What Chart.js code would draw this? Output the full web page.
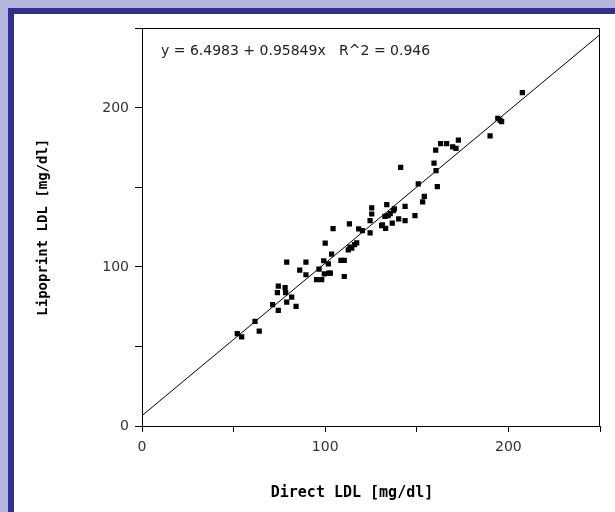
<!DOCTYPE html>
<html>
<head>
<meta charset="utf-8">
<script src="https://cdn.jsdelivr.net/npm/chart.js@4/dist/chart.umd.min.js"></script>
<style>
  html, body { margin: 0; padding: 0; }
  body { width: 615px; height: 512px; background: #b6b6dc; overflow: hidden; position: relative; }
  .panel { position: absolute; left: 8px; top: 8px; width: 601px; height: 498px; background: #fff;
           border-left: 6px solid #2e3192; border-top: 6px solid #2e3192; }
  .panel canvas { display: block; }
</style>
</head>
<body>
<div class="panel"><canvas id="chart" width="601" height="498"></canvas></div>
<script>
'use strict';

// ─── Data ─────────────────────────────────────────────────────────────────────
const directLdl = [52.0, 54.4, 61.7, 64.0, 71.3, 74.4, 74.4, 73.9, 78.1, 78.4, 79.0, 81.7, 84.1, 79.0, 86.1,
  89.5, 89.5, 95.3, 98.1, 96.6, 99.2, 100.0, 99.5, 101.9, 102.8, 103.5, 104.3, 108.6, 110.4, 110.4,
  112.6, 113.5, 114.5, 113.2, 117.2, 118.3, 120.3, 124.5, 124.5, 125.4, 131.2, 133.0, 133.6, 132.6, 134.4,
  136.6, 137.2, 137.8, 140.1, 143.6, 143.6, 149.0, 153.2, 154.1, 150.8, 141.2, 161.2, 160.5, 159.4, 160.3,
  163.0, 166.3, 169.6, 171.4, 172.7, 190.0, 194.2, 195.4, 196.3, 207.6, 101.7, 135.5, 125.4, 130.8, 116.0];
const lipoprintLdl = [58.1, 56.0, 65.8, 59.7, 76.3, 72.7, 88.0, 83.8, 87.0, 83.8, 77.9, 81.1, 75.2, 103.0, 98.0,
  103.0, 95.1, 92.0, 92.0, 98.6, 103.9, 115.0, 95.7, 96.1, 96.1, 108.0, 124.1, 104.1, 104.1, 94.0,
  110.8, 112.4, 111.8, 127.1, 115.2, 123.9, 122.9, 121.4, 129.2, 137.1, 126.5, 124.3, 139.2, 131.8, 132.3,
  127.5, 135.4, 136.5, 130.2, 129.2, 138.1, 132.3, 140.9, 144.4, 152.2, 162.6, 150.5, 160.5, 165.3, 173.5,
  177.6, 177.6, 175.5, 174.5, 179.7, 182.4, 193.5, 192.3, 191.4, 209.6, 102.0, 133.5, 133.3, 126.0, 114.0];

// fit shown on the chart
const INTERCEPT = 6.4983;
const SLOPE = 0.95849;
const R2 = 0.946;
const fitX = [0, 250];

const axisMin = 0, axisMax = 250, tickStep = 50;
const labelledTicks = [0, 100, 200];

const xTitle = 'Direct LDL [mg/dl]';
const yTitle = 'Lipoprint LDL [mg/dl]';
const eqText = `y = ${INTERCEPT} + ${SLOPE}x   R^2 = ${R2}`;

// ─── Plugins ──────────────────────────────────────────────────────────────────
const frame = {
  id: 'frame',
  afterDatasetsDraw(chart) {
    const {ctx, chartArea: a} = chart;
    ctx.save();
    ctx.strokeStyle = '#000';
    ctx.lineWidth = 1;
    ctx.strokeRect(Math.round(a.left) + 0.5, Math.round(a.top) + 0.5, Math.round(a.right - a.left) - 1, Math.round(a.bottom - a.top));
    ctx.restore();
  }
};

const labels = {
  id: 'labels',
  afterDraw(chart) {
    const {ctx, chartArea: a} = chart;
    ctx.save();
    ctx.fillStyle = '#222';
    ctx.font = '14px "DejaVu Sans"';
    ctx.textBaseline = 'middle';
    ctx.textAlign = 'left';
    ctx.fillText(eqText, a.left + 19, a.top + 23);
    ctx.fillStyle = '#000';
    ctx.font = 'bold 15px "DejaVu Sans Mono"';
    ctx.textAlign = 'center';
    ctx.fillText(xTitle, a.left + 210, chart.height - 19);
    ctx.restore();
  }
};

// ─── Chart ────────────────────────────────────────────────────────────────────
const tickFont = {family: '"DejaVu Sans"', size: 14};
const showLabel = v => labelledTicks.includes(v) ? String(v) : '';

new Chart(document.getElementById('chart').getContext('2d'), {
  type: 'scatter',
  data: {
    datasets: [
      {
        type: 'scatter',
        data: directLdl.map((x, i) => ({x, y: lipoprintLdl[i]})),
        pointStyle: 'rect', pointRadius: 3.7, backgroundColor: '#000', borderWidth: 0
      },
      {
        type: 'line',
        data: fitX.map(x => ({x, y: INTERCEPT + SLOPE * x})),
        borderColor: '#000', borderWidth: 1, pointRadius: 0, fill: false, tension: 0
      }
    ]
  },
  options: {
    responsive: false, animation: false, events: [],
    layout: {padding: {top: 13, right: 15, left: 0, bottom: 0}},
    plugins: {legend: {display: false}, tooltip: {enabled: false}},
    scales: {
      x: {
        type: 'linear', min: axisMin, max: axisMax,
        afterFit: s => { s.height = 86; },
        border: {display: true, color: '#000', width: 1},
        grid: {display: true, drawOnChartArea: false, drawTicks: true, tickLength: 6, color: '#000'},
        ticks: {stepSize: tickStep, autoSkip: false, maxRotation: 0, padding: 7, color: '#333', font: tickFont, callback: showLabel},
        title: {display: false}
      },
      y: {
        type: 'linear', min: axisMin, max: axisMax,
        afterFit: s => { s.width = 128; },
        border: {display: true, color: '#000', width: 1},
        grid: {display: true, drawOnChartArea: false, drawTicks: true, tickLength: 7, color: '#000'},
        ticks: {stepSize: tickStep, autoSkip: false, padding: 6, color: '#333', font: tickFont, callback: showLabel},
        title: {display: true, text: yTitle, color: '#000', padding: {top: 21, bottom: 0},
                font: {family: '"DejaVu Sans Mono"', size: 14, weight: 'bold'}}
      }
    }
  },
  plugins: [frame, labels]
});
</script>
</body>
</html>
